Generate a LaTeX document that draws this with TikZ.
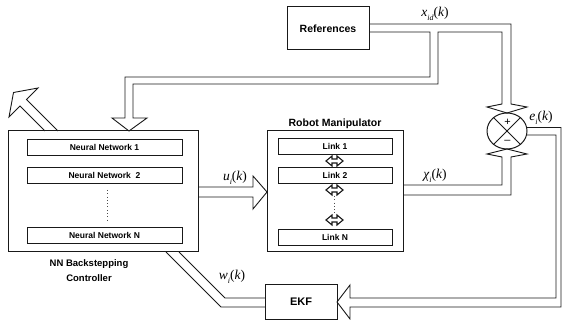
\documentclass[tikz,border=0pt]{standalone}
\usepackage{fontspec}
\setmainfont{Liberation Sans}
\newfontfamily\tmsfont{Liberation Serif}
\usetikzlibrary{shapes.geometric}
\newcommand{\mlab}[2]{{\tmsfont\itshape #1\raisebox{-0.28em}{\fontsize{8}{8}\selectfont #2}\upshape(\itshape k\upshape)}}
\begin{document}
\begin{tikzpicture}[x=1pt,y=-1pt,line join=miter,
  box/.style={draw=black!90,line width=1pt,inner sep=0pt,fill=white},
  sub/.style={draw=black!90,line width=0.85pt,inner sep=0pt,font=\bfseries\fontsize{8.5}{10}\selectfont},
  pipe/.style={draw=black!90,line width=0.9pt},
  ttl/.style={inner sep=0pt,font=\bfseries\fontsize{10.5}{12}\selectfont},
  lbl/.style={inner sep=0pt,font=\fontsize{13.5}{15}\selectfont},
  dots/.style={draw=black!70,line width=0.7pt,dash pattern=on 0.7pt off 2.6pt}
]
\useasboundingbox (0,0) rectangle (562,320);

% main boxes
\node[box,minimum width=190pt,minimum height=121pt] (nn) at (103,191.5) {};
\node[sub,minimum width=155pt,minimum height=16pt] (nn1) at (104.5,147) {Neural Network 1};
\node[sub,minimum width=155pt,minimum height=16pt] (nn2) at (104.5,175) {Neural Network\ \ 2};
\node[sub,minimum width=155pt,minimum height=16pt] (nnN) at (104.5,235) {Neural Network N};
\draw[dots] (107,190) -- (107,222);
\node[ttl,align=center,font=\bfseries\fontsize{9.5}{15}\selectfont] (nnlbl) at (89,270.5) {NN Backstepping\\Controller};

\node[box,minimum width=136pt,minimum height=121pt] (rob) at (335,191.5) {};
\node[ttl] (roblbl) at (335,124) {Robot Manipulator};
\node[sub,minimum width=114pt,minimum height=16pt] (l1) at (335,146) {Link 1};
\node[sub,minimum width=114pt,minimum height=16pt] (l2) at (335,175) {Link 2};
\node[sub,minimum width=114pt,minimum height=16pt] (lN) at (335,237) {Link N};
\draw[dots] (334,196) -- (334,214);
\foreach \yy in {161,190,220}{
  \draw[pipe,line width=1.1pt,fill=white] (326,\yy) -- ++(6,-5) -- ++(0,3) -- ++(5,0) -- ++(0,-3) -- ++(6,5)
     -- ++(-6,5) -- ++(0,-3) -- ++(-5,0) -- ++(0,3) -- cycle;
}

\node[box,minimum width=82pt,minimum height=43pt,font=\bfseries\fontsize{10.5}{12}\selectfont] (ref) at (328,28.5) {References};
\node[box,minimum width=72pt,minimum height=34pt,font=\bfseries\fontsize{11}{12}\selectfont] (ekf) at (301,302) {EKF};

% summing junction
\node[draw=black!90,line width=1pt,ellipse,minimum width=40pt,minimum height=36pt,inner sep=0pt] (sum) at (507,131) {};
\draw[pipe] (sum.45) -- (sum.225) (sum.135) -- (sum.315);
\node[inner sep=0pt,font=\fontsize{11}{12}\selectfont] (plus) at (507.5,122.5) {+};
\node[inner sep=0pt,font=\fontsize{11}{12}\selectfont] (minus) at (507.5,141.5) {\textendash};

% reference pipe with branch to NN controller
\draw[pipe] (369,24) -- (511,24) -- (511,104) -- (527,107) -- (507,113) -- (487,107) -- (502,104)
  -- (502,32) -- (438,32) -- (438,84) -- (133,84) -- (133,118) -- (147,118) -- (129,131)
  -- (112,118) -- (125,118) -- (125,77) -- (430,77) -- (430,32) -- (369,32);

% chi pipe
\draw[pipe] (403,185) -- (502,185) -- (502,157) -- (487,154) -- (507,149) -- (527,154)
  -- (511,157) -- (511,195) -- (403,195);

% error pipe to EKF
\draw[pipe] (526.5,127.5) -- (561,127.5) -- (561,307) -- (350,307) -- (350,319) -- (337,302)
  -- (350,285) -- (350,298) -- (556,298) -- (556,135) -- (526.5,135);

% EKF to NN
\draw[pipe] (265,298) -- (225,298) -- (179,252);
\draw[pipe] (265,307) -- (221,307) -- (166,252);

% u pipe
\draw[pipe] (198,187) -- (253,187) -- (253,176) -- (267,192) -- (253,209) -- (253,197) -- (198,197);

% NN output arrow (top-left)
\draw[pipe] (58,131) -- (26.5,99.5) -- (38,88) -- (13.5,92.5) -- (9,117) -- (20,106) -- (45,131);

% labels
\node[lbl] (xid) at (435,14) {\mlab{x}{id}};
\node[lbl] (ei) at (541,118) {\mlab{e}{i}};
\node[lbl] (chi) at (435,176) {\mlab{χ}{i}};
\node[lbl] (ui) at (235,178) {\mlab{u}{i}};
\node[lbl] (wi) at (232,277) {\mlab{w}{i}};
\end{tikzpicture}
\end{document}
